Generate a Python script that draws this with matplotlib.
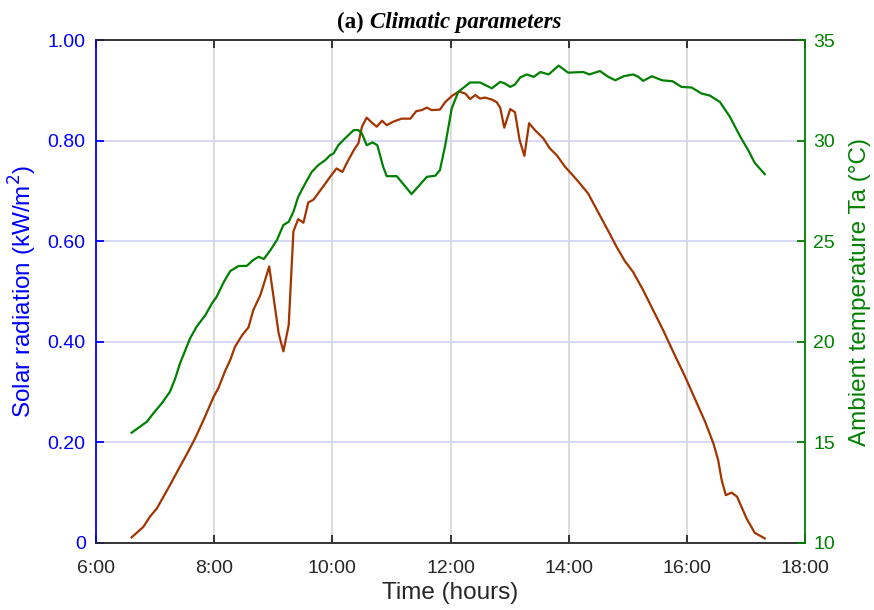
import matplotlib
matplotlib.use("Agg")
import matplotlib.pyplot as plt

# ---- data ----
solar_time = [6.60, 6.80, 6.91, 7.03, 7.25, 7.42, 7.56, 7.68, 7.82, 7.99, 8.07, 8.18, 8.27,
              8.35, 8.47, 8.58, 8.66, 8.78, 8.86, 8.93, 9.09, 9.17, 9.26, 9.34, 9.42, 9.51,
              9.59, 9.68, 9.85, 9.96, 10.07, 10.17, 10.24, 10.36, 10.44, 10.50, 10.58, 10.67,
              10.75, 10.84, 10.92, 11.03, 11.17, 11.32, 11.42, 11.51, 11.60, 11.68, 11.82,
              11.91, 12.02, 12.14, 12.25, 12.33, 12.42, 12.50, 12.58, 12.70, 12.78, 12.84,
              12.91, 13.01, 13.09, 13.17, 13.25, 13.33, 13.43, 13.57, 13.68, 13.80, 13.94,
              14.05, 14.19, 14.33, 14.48, 14.59, 14.70, 14.81, 14.95, 15.09, 15.26, 15.43,
              15.60, 15.77, 15.97, 16.17, 16.31, 16.45, 16.53, 16.59, 16.66, 16.76, 16.85,
              17.01, 17.15, 17.32]
solar_rad = [0.011, 0.032, 0.052, 0.069, 0.115, 0.152, 0.182, 0.209, 0.245, 0.291, 0.308,
             0.341, 0.364, 0.390, 0.413, 0.429, 0.463, 0.493, 0.523, 0.550, 0.417, 0.381,
             0.433, 0.620, 0.644, 0.637, 0.677, 0.683, 0.710, 0.728, 0.745, 0.738, 0.755,
             0.781, 0.795, 0.828, 0.846, 0.836, 0.828, 0.840, 0.831, 0.838, 0.844, 0.844,
             0.859, 0.861, 0.866, 0.861, 0.862, 0.877, 0.889, 0.898, 0.894, 0.883, 0.891,
             0.884, 0.886, 0.882, 0.877, 0.866, 0.826, 0.863, 0.857, 0.801, 0.770, 0.835,
             0.821, 0.805, 0.785, 0.771, 0.748, 0.734, 0.715, 0.695, 0.662, 0.638, 0.614,
             0.589, 0.561, 0.539, 0.503, 0.463, 0.423, 0.380, 0.331, 0.278, 0.241, 0.198,
             0.165, 0.125, 0.095, 0.100, 0.092, 0.049, 0.020, 0.009]

temp_time = [6.60, 6.86, 6.97, 7.11, 7.25, 7.34, 7.42, 7.59, 7.70, 7.85, 7.96, 8.04, 8.16,
             8.27, 8.41, 8.55, 8.66, 8.75, 8.84, 8.95, 9.06, 9.17, 9.26, 9.34, 9.42, 9.54,
             9.65, 9.76, 9.88, 9.96, 10.02, 10.10, 10.22, 10.36, 10.44, 10.50, 10.58, 10.68,
             10.76, 10.86, 10.92, 11.09, 11.34, 11.60, 11.74, 11.82, 11.91, 12.02, 12.13,
             12.33, 12.50, 12.70, 12.84, 12.92, 13.01, 13.09, 13.18, 13.29, 13.41, 13.52,
             13.66, 13.83, 13.99, 14.25, 14.35, 14.53, 14.67, 14.79, 14.93, 15.09, 15.18,
             15.26, 15.41, 15.58, 15.76, 15.91, 16.08, 16.25, 16.39, 16.56, 16.73, 16.90,
             17.04, 17.15, 17.32]
temp_amb = [15.48, 16.03, 16.45, 16.94, 17.52, 18.19, 18.93, 20.17, 20.75, 21.33, 21.91,
            22.24, 22.97, 23.52, 23.77, 23.78, 24.07, 24.23, 24.12, 24.56, 25.06, 25.81,
            25.97, 26.47, 27.21, 27.88, 28.45, 28.79, 29.04, 29.28, 29.37, 29.78, 30.14,
            30.53, 30.53, 30.36, 29.78, 29.92, 29.78, 28.70, 28.24, 28.24, 27.35, 28.21,
            28.26, 28.54, 29.78, 31.61, 32.43, 32.90, 32.90, 32.61, 32.93, 32.85, 32.68,
            32.80, 33.15, 33.30, 33.18, 33.42, 33.30, 33.74, 33.39, 33.42, 33.30, 33.47,
            33.18, 33.01, 33.21, 33.30, 33.18, 32.98, 33.21, 33.01, 32.96, 32.68, 32.65,
            32.35, 32.25, 31.93, 31.19, 30.23, 29.53, 28.90, 28.34]

x_ticks = [6, 8, 10, 12, 14, 16, 18]
x_labels = ["6:00", "8:00", "10:00", "12:00", "14:00", "16:00", "18:00"]
left_ticks = [0, 0.2, 0.4, 0.6, 0.8, 1.0]
left_labels = ["0", "0.20", "0.40", "0.60", "0.80", "1.00"]
right_ticks = [10, 15, 20, 25, 30, 35]

# ---- style ----
plt.rcParams['font.family'] = ['Liberation Sans', 'DejaVu Sans']
BLUE = '#0000FF'
GREEN = '#008000'
RED = '#A23400'
DARK = '#262626'

fig = plt.figure(figsize=(8.74, 6.10), dpi=100)
ax = fig.add_axes([0.110, 0.110, 0.811, 0.824])
ax2 = ax.twinx()

ax.plot(solar_time, solar_rad, color=RED, lw=1.6, zorder=3)
ax2.plot(temp_time, temp_amb, color=GREEN, lw=1.6, zorder=3)

ax.set_xlim(6, 18)
ax.set_ylim(0, 1.0)
ax2.set_ylim(10, 35)

ax.set_xticks(x_ticks)
ax.set_xticklabels(x_labels)
ax.set_yticks(left_ticks)
ax.set_yticklabels(left_labels)
ax2.set_yticks(right_ticks)

# grids
ax.set_axisbelow(True)
ax.xaxis.grid(True, color='#D9D9D9', lw=1.3)
ax.yaxis.grid(True, color='#D4D4F7', lw=1.3)

# spines
ax.spines['left'].set_color(BLUE)
ax.spines['bottom'].set_color(DARK)
ax.spines['top'].set_color(DARK)
ax.spines['right'].set_visible(False)
for s in ['left', 'top', 'bottom']:
    ax2.spines[s].set_visible(False)
ax2.spines['right'].set_color(GREEN)
for a in (ax, ax2):
    for s in a.spines.values():
        s.set_linewidth(1.3)

ax.tick_params(axis='x', direction='in', top=True, length=6, width=1.3,
               colors=DARK, labelsize=14, pad=12)
ax.tick_params(axis='y', direction='in', length=6, width=1.3,
               colors=BLUE, labelsize=14, pad=7.5)
ax2.tick_params(axis='y', direction='in', length=6, width=1.3,
                colors=GREEN, labelsize=14, pad=6)

ax.set_xlabel("Time (hours)", fontsize=17.5, color=DARK, labelpad=4)
ax.set_ylabel("Solar radiation (kW/m$^2$)", fontsize=17.5, color=BLUE, labelpad=6)
ax2.set_ylabel("Ambient temperature Ta (°C)", fontsize=17.5, color=GREEN, labelpad=10)

# title
ax.text(0.377, 1.024, "(a)", transform=ax.transAxes, ha='right', va='baseline',
        fontsize=16.5, fontweight='bold', family=['Liberation Serif', 'DejaVu Serif'])
ax.text(0.387, 1.024, "Climatic parameters", transform=ax.transAxes, ha='left',
        va='baseline', fontsize=16.5, fontweight='bold', fontstyle='italic',
        family=['Liberation Serif', 'DejaVu Serif'])

fig.savefig("out.png", dpi=100)
